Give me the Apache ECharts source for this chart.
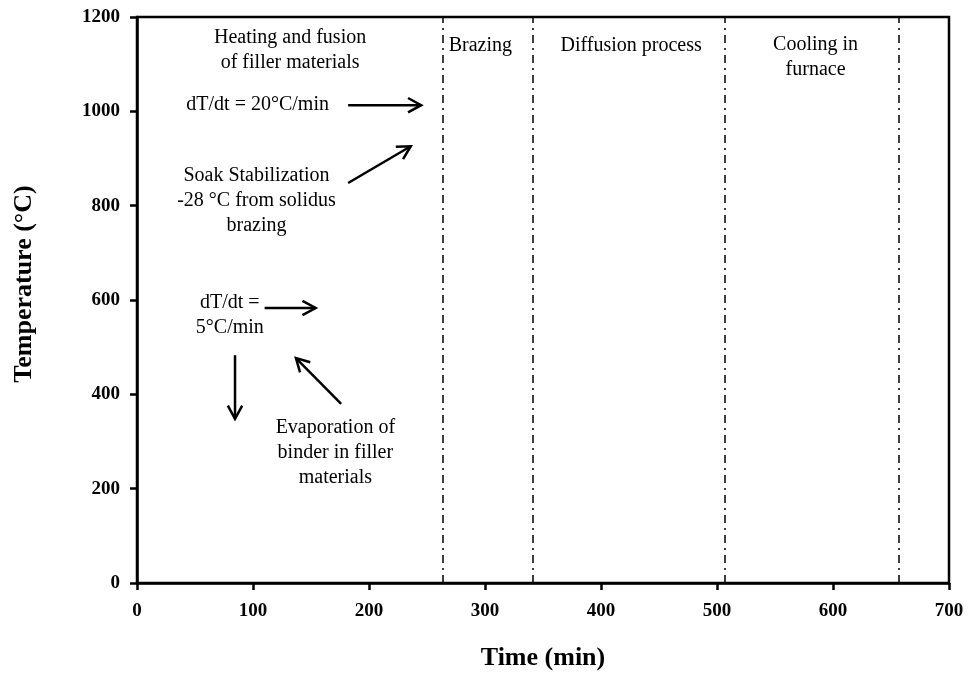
<!DOCTYPE html>
<html>
<head>
<meta charset="utf-8">
<script src="https://cdn.jsdelivr.net/npm/echarts@6/dist/echarts.min.js"></script>
<style>
  html, body { margin: 0; padding: 0; background: #fff; }
  #chart { width: 969px; height: 677px; }
</style>
</head>
<body>
<div id="chart"></div>
<script>
// x positions (min) of the dash-dot phase boundaries
const phaseBounds = [264, 341, 507, 657];

// text notes: [time, temperature, text]
const notes = [
  [132, 1129, "Heating and fusion\nof filler materials"],
  [104, 1013, "dT/dt = 20°C/min"],
  [103, 810, "Soak Stabilization\n-28 °C from solidus\nbrazing"],
  [296, 1140, "Brazing"],
  [426, 1140, "Diffusion process"],
  [585, 1114, "Cooling in\nfurnace"],
  [80, 568, "dT/dt =\n5°C/min"],
  [171, 276, "Evaporation of\nbinder in filler\nmaterials"]
];

// arrows: [x from, y from, x to, y to]
const arrows = [
  [182, 1013, 245, 1013],
  [182, 848, 236, 926],
  [110, 583, 154, 583],
  [84.5, 483, 84.5, 348],
  [176, 380, 137, 477]
];

const serif = "Liberation Serif";
const chart = echarts.init(document.getElementById("chart"));

chart.setOption({
  backgroundColor: "#fff",
  animation: false,
  grid: {
    left: 137,
    right: 20,
    top: 17,
    bottom: 94,
    show: true,
    borderColor: "#000",
    borderWidth: 2.5
  },
  xAxis: {
    type: "value",
    min: 0,
    max: 700,
    interval: 100,
    name: "Time (min)",
    nameLocation: "middle",
    nameGap: 62,
    nameTextStyle: { fontFamily: serif, fontWeight: "bold", fontSize: 26, color: "#000" },
    axisLine: { lineStyle: { color: "#000", width: 2.5 } },
    axisTick: { show: true, inside: false, length: 7, lineStyle: { color: "#000", width: 2.5 } },
    axisLabel: {
      fontFamily: serif, fontWeight: "bold", fontSize: 19, color: "#000", margin: 19,
      formatter: (v) => String(v)
    },
    splitLine: { show: false }
  },
  yAxis: {
    type: "value",
    min: 0,
    max: 1200,
    interval: 200,
    name: "Temperature (°C)",
    nameLocation: "middle",
    nameGap: 100,
    nameTextStyle: {
      fontFamily: serif, fontWeight: "bold", fontSize: 26, color: "#000",
      padding: [0, 0, 0, 32]
    },
    axisLine: { lineStyle: { color: "#000", width: 2.5 } },
    axisTick: { show: true, inside: false, length: 7, lineStyle: { color: "#000", width: 2.5 } },
    axisLabel: {
      fontFamily: serif, fontWeight: "bold", fontSize: 19, color: "#000", margin: 17,
      formatter: (v) => String(v)
    },
    splitLine: { show: false }
  },
  series: [
    {
      // phase boundaries
      type: "line",
      data: [],
      markLine: {
        silent: true,
        symbol: ["none", "none"],
        label: { show: false },
        lineStyle: { color: "#000", width: 1.5, type: [8, 5, 2, 5] },
        data: phaseBounds.map((x) => ({ xAxis: x }))
      }
    },
    {
      // arrows
      type: "custom",
      silent: true,
      data: arrows,
      renderItem: function (params, api) {
        const p1 = api.coord([api.value(0), api.value(1)]);
        const p2 = api.coord([api.value(2), api.value(3)]);
        const ang = Math.atan2(p2[1] - p1[1], p2[0] - p1[0]);
        const len = 15, spread = 0.5;
        const h1 = [p2[0] - len * Math.cos(ang - spread), p2[1] - len * Math.sin(ang - spread)];
        const h2 = [p2[0] - len * Math.cos(ang + spread), p2[1] - len * Math.sin(ang + spread)];
        const style = { stroke: "#000", lineWidth: 2.5, fill: null };
        return {
          type: "group",
          children: [
            { type: "line", shape: { x1: p1[0], y1: p1[1], x2: p2[0], y2: p2[1] }, style: style },
            { type: "polyline", shape: { points: [h1, p2, h2] }, style: style }
          ]
        };
      }
    },
    {
      // text notes
      type: "custom",
      silent: true,
      data: notes,
      renderItem: function (params, api) {
        const p = api.coord([api.value(0), api.value(1)]);
        return {
          type: "text",
          x: p[0],
          y: p[1],
          style: {
            text: notes[params.dataIndex][2],
            fontFamily: serif,
            fontSize: 20,
            lineHeight: 25,
            fill: "#000",
            align: "center",
            verticalAlign: "middle"
          }
        };
      }
    }
  ]
});
</script>
</body>
</html>
